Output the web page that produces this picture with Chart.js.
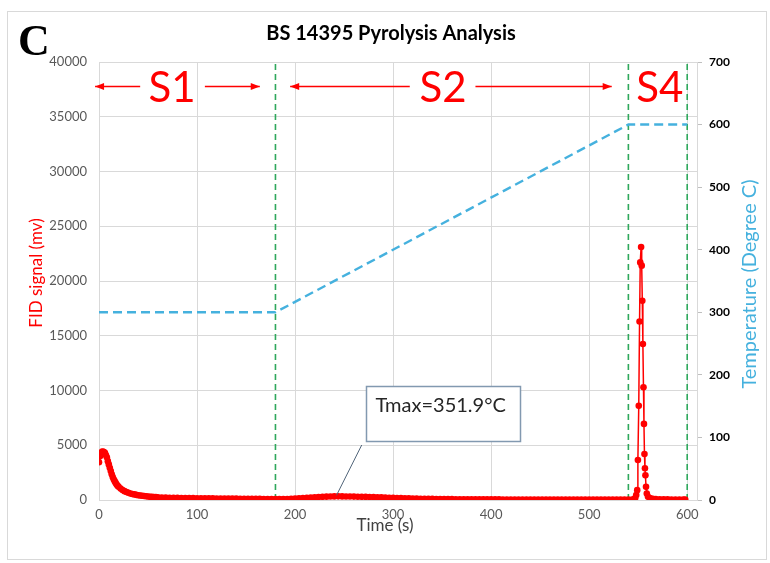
<!DOCTYPE html>
<html>
<head>
<meta charset="utf-8">
<script src="https://cdn.jsdelivr.net/npm/chart.js@4/dist/chart.umd.min.js"></script>
<style>
  html, body { margin: 0; padding: 0; background: #ffffff; }
  canvas { display: block; }
</style>
</head>
<body>
<canvas id="c" width="770" height="563"></canvas>
<script>
// FID signal (mV) against time (s), one array per stage: [time, signal]
const fidS1 = [
  [0,3450],[1,4000],[2,4250],[3,4400],[4,4420],[5,4380],[6,4300],[7,4100],[8,3900],[9,3550],
  [10,3250],[11,2950],[12,2650],[13,2350],[14,2100],[15,1900],[16,1720],[17,1560],[18,1420],[19,1300],
  [20,1200],[22,1040],[24,910],[26,810],[28,730],[30,660],[32,600],[34,550],[36,510],[38,470],
  [40,440],[42,410],[44,385],[46,360],[48,340],[50,320],[52,300],[54,285],[56,270],[58,258],
  [60,248],[64,232],[68,220],[72,209],[76,200],[80,192],[84,185],[88,179],[92,173],[96,168],
  [100,163],[104,158],[108,154],[112,150],[116,146],[120,142],[124,138],[128,134],[132,130],[136,126],
  [140,122],[144,118],[148,115],[152,111],[156,108],[160,104],[164,101],[168,97],[172,94],[176,90],[180,87]
];
const fidS2 = [
  [184,84],[188,88],[192,96],[196,110],[200,128],[204,150],[208,175],[212,200],[216,225],[220,250],
  [224,272],[228,292],[232,308],[236,320],[240,330],[244,334],[248,331],[252,326],[256,319],[260,311],
  [264,302],[268,293],[272,283],[276,273],[280,262],[284,250],[288,238],[292,225],[296,212],[300,199],
  [304,186],[308,173],[312,161],[316,150],[320,139],[324,129],[328,120],[332,112],[336,105],[340,99],
  [344,93],[348,88],[352,84],[356,80],[360,76],[364,73],[368,70],[372,68],[376,66],[380,64],
  [384,62],[388,60],[392,58],[396,57],[400,55],[404,54],[408,53],[412,51],[416,50],[420,49],
  [424,48],[428,47],[432,46],[436,45],[440,44],[444,43],[448,42],[452,42],[456,41],[460,40],
  [464,40],[468,39],[472,38],[476,38],[480,37],[484,37],[488,36],[492,36],[496,35],[500,35],
  [504,34],[508,34],[512,34],[516,33],[520,33],[524,33],[528,32],[532,32],[536,32],[540,31]
];
const fidS4 = [
  [544,40],[546,80],[547,180],[548,450],[549,900],[549.7,3650],[550.6,8600],[551.4,16300],[552.1,21700],
  [553,23100],[553.6,21400],[554.2,18200],[554.8,14250],[555.4,10300],[555.9,6950],[556.4,4200],
  [556.9,2900],[557.4,2250],[558,1200],[558.8,600],[560,300],[562,180],[565,120],[568,90],
  [572,75],[576,65],[580,58],[584,52],[588,48],[592,45],[596,42],[598,40]
];

// Oven temperature programme (°C): [time, temperature]
const temperatureRamp = [[0,300],[180,300],[540,600],[600,600]];

// Stage boundaries (s) and stage names
const stageBounds = [180, 540, 600];
const stageNames = ['S1', 'S2', 'S4'];

// Peak temperature of the S2 peak (°C)
const tmaxValue = 351.9;

// Tick values
const timeTicks = [0, 100, 200, 300, 400, 500, 600];
const fidTicks = [0, 5000, 10000, 15000, 20000, 25000, 30000, 35000, 40000];
const tempTicks = [0, 100, 200, 300, 400, 500, 600, 700];

const toXY = rows => rows.map(([x, y]) => ({ x, y }));
const fidPoints = toXY([...fidS1, ...fidS2, ...fidS4]);
const tempPoints = toXY(temperatureRamp);

// time at which the temperature programme reaches Tmax
function timeAtTemperature(t) {
  for (let i = 1; i < temperatureRamp.length; i++) {
    const [x0, y0] = temperatureRamp[i - 1], [x1, y1] = temperatureRamp[i];
    if (y1 !== y0 && t >= Math.min(y0, y1) && t <= Math.max(y0, y1)) {
      return x0 + (t - y0) / (y1 - y0) * (x1 - x0);
    }
  }
  return 0;
}
const tmaxTime = timeAtTemperature(tmaxValue);
const fidAtTmax = (() => {
  let best = fidS2[0];
  fidS2.forEach(p => { if (Math.abs(p[0] - tmaxTime) < Math.abs(best[0] - tmaxTime)) best = p; });
  return best[1];
})();

const FID_MAX = 40000, TEMP_MAX = 700;

const stageLines = stageBounds.map(b => ({
  type: 'scatter',
  showLine: true,
  data: [{ x: b, y: 0 }, { x: b, y: FID_MAX }],
  yAxisID: 'y',
  borderColor: '#2fa85c',
  borderWidth: 1.6,
  borderDash: [6, 4],
  pointRadius: 0,
  order: 2
}));

const RED = '#ff0000';
const BLUE = '#45b1de';
const UI_FONT = 'Lato, "Open Sans", "Liberation Sans", sans-serif';

// stage arrows: [from time, to time, arrow end] and label times, at signal level
const stageArrows = [[-4, 42, 'from'], [108, 164, 'to'], [195, 317, 'from'], [384, 523, 'to']];
const stageLabelTimes = [74.5, 351, 572];
const arrowLevel = 37850;
const calloutBox = { x0: 272, x1: 429, y0: 5390, y1: 10410 };
const calloutFoot = { x: 268, y: 5020 };

const decorations = {
  id: 'decorations',
  beforeDraw(chart) {
    const { ctx, width, height } = chart;
    ctx.save();
    ctx.fillStyle = '#ffffff';
    ctx.fillRect(0, 0, width, height);
    ctx.strokeStyle = '#d9d9d9';
    ctx.lineWidth = 1;
    ctx.strokeRect(7.5, 11.5, 759, 548);
    ctx.restore();
  },
  afterDraw(chart) {
    const { ctx } = chart;
    const xs = chart.scales.x, ys = chart.scales.y;
    const px = v => xs.getPixelForValue(v);
    const py = v => ys.getPixelForValue(v);
    ctx.save();

    // panel letter
    ctx.fillStyle = '#000';
    ctx.font = 'bold 44px "Liberation Serif", "Times New Roman", serif';
    ctx.textAlign = 'left';
    ctx.textBaseline = 'alphabetic';
    ctx.fillText('C', 18, 55);

    // chart title
    ctx.font = 'bold 20px ' + UI_FONT;
    ctx.textAlign = 'center';
    ctx.textBaseline = 'middle';
    ctx.fillText('BS 14395 Pyrolysis Analysis', 391, 34);

    // axis titles
    ctx.font = '17px ' + UI_FONT;
    ctx.fillStyle = '#404040';
    ctx.fillText('Time (s)', 385, 526);

    ctx.save();
    ctx.translate(37, 273);
    ctx.rotate(-Math.PI / 2);
    ctx.fillStyle = RED;
    ctx.font = '17px ' + UI_FONT;
    ctx.fillText('FID signal (mv)', 0, 0);
    ctx.restore();

    ctx.save();
    ctx.translate(750, 284);
    ctx.rotate(-Math.PI / 2);
    ctx.fillStyle = BLUE;
    ctx.font = '20px ' + UI_FONT;
    ctx.fillText('Temperature (Degree C)', 0, 0);
    ctx.restore();

    // stage labels and arrows
    ctx.fillStyle = RED;
    ctx.strokeStyle = RED;
    ctx.font = '42px ' + UI_FONT;
    ctx.textAlign = 'center';
    ctx.textBaseline = 'middle';
    stageNames.forEach((name, i) => ctx.fillText(name, px(stageLabelTimes[i]), py(arrowLevel) + 3));

    const ay = Math.round(py(arrowLevel)) + 0.5;
    stageArrows.forEach(([a, b, head]) => {
      const xa = px(a), xb = px(b);
      ctx.lineWidth = 1.5;
      ctx.beginPath();
      ctx.moveTo(xa, ay);
      ctx.lineTo(xb, ay);
      ctx.stroke();
      const tip = head === 'from' ? xa : xb;
      const dir = head === 'from' ? 1 : -1;
      ctx.beginPath();
      ctx.moveTo(tip, ay);
      ctx.lineTo(tip + dir * 9, ay - 3.5);
      ctx.lineTo(tip + dir * 9, ay + 3.5);
      ctx.closePath();
      ctx.fill();
    });

    // Tmax callout
    ctx.strokeStyle = '#51657a';
    ctx.lineWidth = 1;
    ctx.beginPath();
    ctx.moveTo(px(calloutFoot.x), py(calloutFoot.y));
    ctx.lineTo(px(tmaxTime), py(fidAtTmax) - 1);
    ctx.stroke();

    const bx0 = Math.round(px(calloutBox.x0)) + 0.5, bx1 = Math.round(px(calloutBox.x1)) + 0.5;
    const by0 = Math.round(py(calloutBox.y1)) + 0.5, by1 = Math.round(py(calloutBox.y0)) + 0.5;
    ctx.fillStyle = '#ffffff';
    ctx.fillRect(bx0, by0, bx1 - bx0, by1 - by0);
    ctx.strokeStyle = '#8299b0';
    ctx.lineWidth = 1.5;
    ctx.strokeRect(bx0, by0, bx1 - bx0, by1 - by0);
    ctx.fillStyle = '#262626';
    ctx.font = '20px ' + UI_FONT;
    ctx.textAlign = 'left';
    ctx.textBaseline = 'middle';
    ctx.fillText('Tmax=' + tmaxValue.toFixed(1) + '°C', bx0 + 9, by0 + 19);

    ctx.restore();
  }
};

const keepTicks = list => scale => {
  scale.ticks = list.map(v => ({ value: v }));
};

new Chart(document.getElementById('c'), {
  type: 'scatter',
  data: {
    datasets: [
      {
        label: 'FID signal',
        data: fidPoints,
        yAxisID: 'y',
        showLine: true,
        borderColor: RED,
        borderWidth: 1.5,
        backgroundColor: RED,
        pointBackgroundColor: RED,
        pointBorderColor: RED,
        pointBorderWidth: 0,
        pointRadius: 3.3,
        order: 0
      },
      {
        label: 'Temperature',
        data: tempPoints,
        yAxisID: 'y2',
        showLine: true,
        borderColor: BLUE,
        borderWidth: 2.4,
        borderDash: [9, 5],
        pointRadius: 0,
        order: 1
      },
      ...stageLines
    ]
  },
  options: {
    responsive: false,
    devicePixelRatio: 1,
    animation: false,
    events: [],
    layout: { padding: { top: 62, left: 0, right: 0, bottom: 0 } },
    plugins: {
      legend: { display: false },
      title: { display: false },
      tooltip: { enabled: false }
    },
    scales: {
      x: {
        type: 'linear',
        min: 0,
        max: 610,
        afterBuildTicks: keepTicks(timeTicks),
        afterFit: s => { s.height = 63; },
        grid: { color: '#d9d9d9', drawTicks: false },
        border: { display: true, color: '#d9d9d9' },
        ticks: {
          padding: 7,
          color: '#595959',
          font: { family: UI_FONT, size: 13 },
          maxRotation: 0,
          callback: v => String(v)
        }
      },
      y: {
        position: 'left',
        min: 0,
        max: FID_MAX,
        afterBuildTicks: keepTicks(fidTicks),
        afterFit: s => { s.width = 99; },
        grid: { color: '#d9d9d9', drawTicks: false },
        border: { display: false },
        ticks: {
          padding: 12,
          color: '#595959',
          font: { family: UI_FONT, size: 13 },
          callback: v => String(v)
        }
      },
      y2: {
        position: 'right',
        min: 0,
        max: TEMP_MAX,
        afterBuildTicks: keepTicks(tempTicks),
        afterFit: s => { s.width = 73; },
        grid: { drawOnChartArea: false, drawTicks: true, tickLength: 5, color: '#bfbfbf' },
        border: { display: true, color: '#d9d9d9' },
        ticks: {
          padding: 7,
          color: '#000000',
          font: { family: UI_FONT, size: 12, weight: 'bold' },
          callback: v => String(v)
        }
      }
    }
  },
  plugins: [decorations]
});
</script>
</body>
</html>
